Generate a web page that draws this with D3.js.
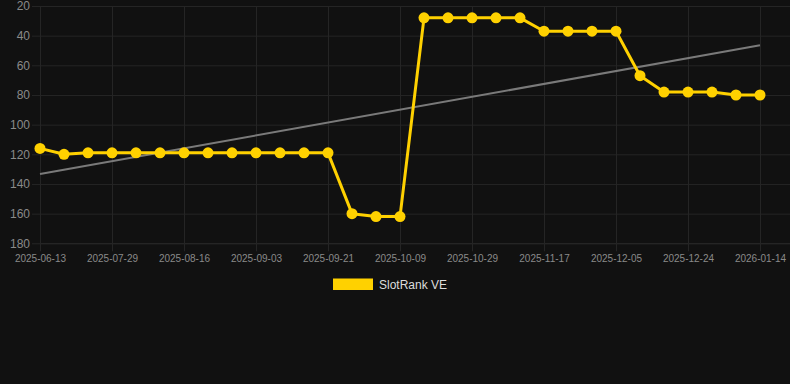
<!DOCTYPE html>
<html>
<head>
<meta charset="utf-8">
<script src="https://cdn.jsdelivr.net/npm/d3@7"></script>
<style>
  html, body { margin: 0; padding: 0; background: #111111; }
  svg { display: block; }
</style>
</head>
<body>
<svg id="chart" width="790" height="384"></svg>
<script>
const categories = [
  "2025-06-13","2025-06-28","2025-07-13","2025-07-29","2025-08-04","2025-08-10",
  "2025-08-16","2025-08-22","2025-08-28","2025-09-03","2025-09-09","2025-09-15",
  "2025-09-21","2025-09-27","2025-10-03","2025-10-09","2025-10-15","2025-10-22",
  "2025-10-29","2025-11-04","2025-11-11","2025-11-17","2025-11-23","2025-11-29",
  "2025-12-05","2025-12-11","2025-12-18","2025-12-24","2025-12-31","2026-01-07",
  "2026-01-14"
];
const rankValues = [
  116,120,119,119,119,119,119,119,119,119,119,119,119,
  160,162,162,
  28,28,28,28,28,
  37,37,37,37,
  67,78,78,78,80,80
];
const trendValues = [133.3, 46.5];
const yTicks = [20,40,60,80,100,120,140,160,180];
const seriesName = "SlotRank VE";

const svg = d3.select("#chart");
const W = 790;
const plot = { left: 40, right: 790, top: 6, bottom: 243.3, pointRight: 760 };

const x = d3.scalePoint().domain(categories).range([plot.left, plot.pointRight]);
const y = d3.scaleLinear().domain([20, 180]).range([plot.top, plot.bottom]);

const gridColor = "#252525";
const font = "Arial, 'Liberation Sans', Helvetica, sans-serif";

// horizontal grid + y axis
const yAxis = d3.axisLeft(y).tickValues(yTicks).tickSize(8).tickPadding(2)
  .tickSizeOuter(0);
const gy = svg.append("g").attr("transform", `translate(${plot.left},0)`).call(yAxis);
gy.select(".domain").remove();
gy.selectAll(".tick line").attr("stroke", gridColor).attr("x2", -8);
gy.selectAll(".tick").append("line")
  .attr("x1", 0).attr("x2", plot.right - plot.left)
  .attr("stroke", d => d === 180 ? "#2e2e2e" : gridColor).attr("stroke-width", 1);
gy.selectAll(".tick text").attr("fill", "#8a8a8a").attr("font-size", "12px")
  .attr("font-family", font).attr("x", -10);

// vertical grid + x axis
const xTickCats = categories.filter((d, i) => i % 3 === 0);
const xAxis = d3.axisBottom(x).tickValues(xTickCats).tickSize(8).tickPadding(4).tickSizeOuter(0);
const gx = svg.append("g").attr("transform", `translate(0,${plot.bottom})`).call(xAxis);
gx.select(".domain").remove();
gx.selectAll(".tick line").attr("stroke", gridColor);
gx.selectAll(".tick").append("line")
  .attr("y1", 0).attr("y2", plot.top - plot.bottom).attr("stroke", gridColor);
gx.selectAll(".tick text").attr("fill", "#8a8a8a").attr("font-size", "10px")
  .attr("font-family", font);

// trend line
svg.append("line")
  .attr("x1", x(categories[0])).attr("y1", y(trendValues[0]))
  .attr("x2", x(categories[categories.length - 1])).attr("y2", y(trendValues[1]))
  .attr("stroke", "#7a7a7a").attr("stroke-width", 2);

// series line
const gold = "#FFD100";
const line = d3.line().x((d, i) => x(categories[i])).y(d => y(d));
svg.append("path").datum(rankValues)
  .attr("d", line).attr("fill", "none")
  .attr("stroke", gold).attr("stroke-width", 3).attr("stroke-linejoin", "round");

svg.append("g").selectAll("circle").data(rankValues).join("circle")
  .attr("cx", (d, i) => x(categories[i])).attr("cy", d => y(d))
  .attr("r", 5.5).attr("fill", gold);

// legend
const lg = svg.append("g");
lg.append("rect").attr("x", 333).attr("y", 278.5).attr("width", 40).attr("height", 11.5).attr("fill", gold);
lg.append("text").attr("x", 379).attr("y", 284.5).attr("dy", "0.35em")
  .attr("fill", "#dddddd").attr("font-size", "12px").attr("font-family", font)
  .text(seriesName);
</script>
</body>
</html>
